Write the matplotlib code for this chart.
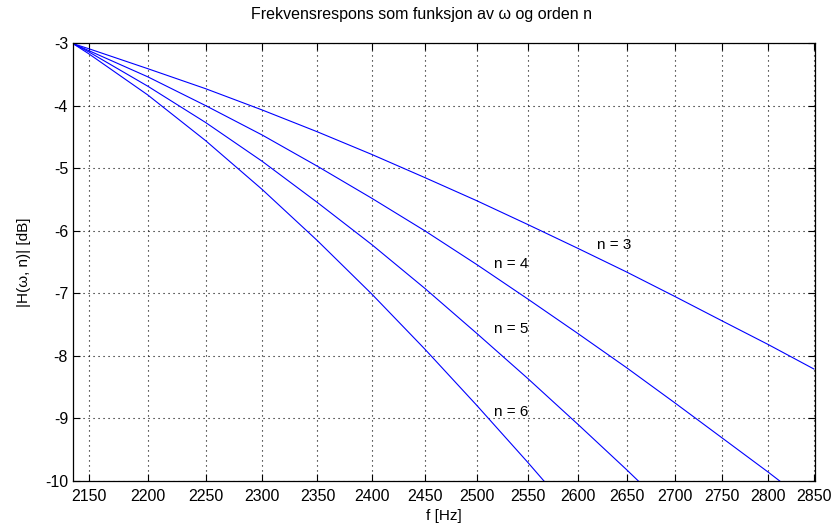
import matplotlib
matplotlib.use("Agg")
import matplotlib.pyplot as plt
from matplotlib.ticker import FixedLocator, NullLocator, FixedFormatter

plt.rcParams['font.family'] = ['Liberation Sans', 'DejaVu Sans']
plt.rcParams['axes.unicode_minus'] = False

# frekvenser (Hz)
f = [2137, 2150, 2200, 2250, 2300, 2350, 2400, 2450, 2500, 2550,
     2600, 2650, 2700, 2750, 2800, 2850]

# |H| i dB for hver orden n
h3 = [-3.01, -3.09, -3.41, -3.73, -4.07, -4.42, -4.78, -5.15, -5.52, -5.90,
      -6.28, -6.66, -7.05, -7.44, -7.82, -8.21]
h4 = [-3.01, -3.12, -3.54, -4.00, -4.47, -4.97, -5.48, -6.00, -6.54, -7.09,
      -7.64, -8.19, -8.75, -9.31, -9.86, -10.42]
h5 = [-3.01, -3.14, -3.69, -4.27, -4.89, -5.55, -6.22, -6.92, -7.64, -8.36,
      -9.09, -9.82, -10.56]
h6 = [-3.01, -3.17, -3.83, -4.56, -5.34, -6.16, -7.01, -7.89, -8.79, -9.70,
      -10.62]

orders = ['n = 3', 'n = 4', 'n = 5', 'n = 6']
label_f = [2620, 2517, 2517, 2517]
label_db = [-6.23, -6.53, -7.57, -8.90]

xticks = list(range(2150, 2851, 50))
yticks = list(range(-10, -2))

fig = plt.figure(figsize=(8.34, 5.29), dpi=100)
ax = fig.add_axes([0.0875, 0.0907, 0.8895, 0.828])

for h in (h3, h4, h5, h6):
    ax.plot(f[:len(h)], h, color='#0000ff', lw=0.8)

for name, lf, ld in zip(orders, label_f, label_db):
    ax.text(lf, ld, name, fontsize=11, va='center', ha='left')

ax.set_xscale('log')
ax.set_xlim(2137, 2851)
ax.set_ylim(-10, -3)
ax.xaxis.set_major_locator(FixedLocator(xticks))
ax.xaxis.set_major_formatter(FixedFormatter([str(t) for t in xticks]))
ax.xaxis.set_minor_locator(NullLocator())
ax.set_yticks(yticks)
ax.set_yticklabels([str(t) for t in yticks])

ax.grid(True, color='black', linestyle=(0, (1, 3.5)), linewidth=0.8)
ax.tick_params(direction='in', length=5, width=0.8, top=True, right=True,
               labelsize=11.5)
ax.tick_params(axis='x', pad=6)
for s in ax.spines.values():
    s.set_linewidth(0.9)

fig.text(0.505, 0.973, 'Frekvensrespons som funksjon av ω og orden n',
         fontsize=11.5, ha='center', va='center')
ax.set_xlabel('f [Hz]', fontsize=11, labelpad=3)
ax.set_ylabel('|H(ω, n)| [dB]', fontsize=11, labelpad=10)

fig.savefig('out.png', dpi=100)
